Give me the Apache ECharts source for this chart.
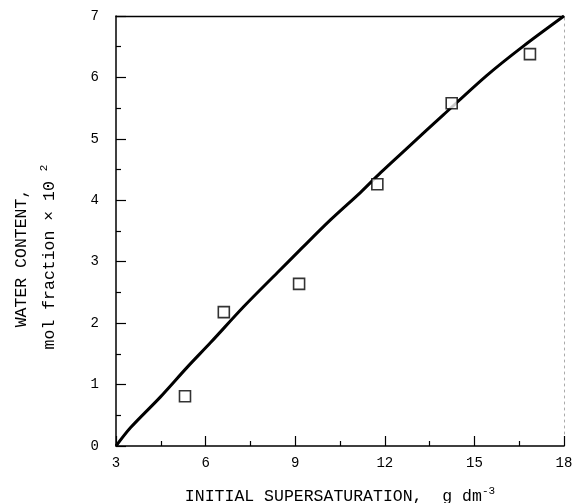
<!DOCTYPE html>
<html>
<head>
<meta charset="utf-8">
<script src="https://cdn.jsdelivr.net/npm/echarts@6/dist/echarts.min.js"></script>
<style>
  html, body { margin: 0; padding: 0; background: #fff; }
  #chart { width: 576px; height: 503px; }
</style>
</head>
<body>
<div id="chart"></div>
<script>
// Measured water content against initial supersaturation
const measX = [5.31, 6.61, 9.13, 11.75, 14.24, 16.86];
const measY = [0.81, 2.18, 2.64, 4.26, 5.58, 6.38];

// Fitted curve across the supersaturation range
const curveX = [3, 3.49, 4.49, 5.38, 6.16, 7.28, 8.40, 9.18, 10.18, 11.19, 11.86, 12.75, 13.96, 15.41, 16.64, 18];
const curveY = [0, 0.30, 0.80, 1.28, 1.68, 2.27, 2.82, 3.20, 3.68, 4.13, 4.45, 4.85, 5.39, 6.03, 6.51, 7];

// Axis ticks
const xTicks = [3, 6, 9, 12, 15, 18];
const yTicks = [0, 1, 2, 3, 4, 5, 6, 7];

const FONT = '"Liberation Mono", "DejaVu Sans Mono", monospace';

const chart = echarts.init(document.getElementById('chart'), null, { renderer: 'canvas' });

const curve = curveX.map((x, i) => [x, curveY[i]]);
const meas = measX.map((x, i) => [x, measY[i]]);

chart.setOption({
  animation: false,
  backgroundColor: '#fff',
  grid: { left: 116, right: 12, top: 16, bottom: 57, containLabel: false, outerBoundsMode: 'none' },
  xAxis: [{
    type: 'value',
    min: xTicks[0], max: xTicks[xTicks.length - 1], interval: 3,
    axisLine: { show: true, onZero: false, lineStyle: { color: '#000', width: 1.5 } },
    axisTick: { show: true, inside: true, length: 10, lineStyle: { color: '#000', width: 1.2 } },
    minorTick: { show: true, splitNumber: 2, length: 5, lineStyle: { color: '#000', width: 1.2 } },
    splitLine: { show: false },
    axisLabel: { margin: 10, color: '#000', fontFamily: FONT, fontSize: 14 },
    name: '{t|INITIAL SUPERSATURATION,  g dm}{s|-3}',
    nameLocation: 'middle',
    nameGap: 40,
    nameTextStyle: {
      rich: {
        t: { fontFamily: FONT, fontSize: 16.5, color: '#000' },
        s: { fontFamily: FONT, fontSize: 11, color: '#000', padding: [0, 0, 10, 0] }
      }
    }
  }, {
    type: 'value', position: 'top',
    min: xTicks[0], max: xTicks[xTicks.length - 1],
    axisLine: { show: true, onZero: false, lineStyle: { color: '#000', width: 1.3 } },
    axisTick: { show: false }, axisLabel: { show: false }, splitLine: { show: false }
  }],
  yAxis: [{
    type: 'value',
    min: yTicks[0], max: yTicks[yTicks.length - 1], interval: 1,
    axisLine: { show: true, onZero: false, lineStyle: { color: '#000', width: 1.5 } },
    axisTick: { show: true, inside: true, length: 10, lineStyle: { color: '#000', width: 1.2 } },
    minorTick: { show: true, splitNumber: 2, length: 5, lineStyle: { color: '#000', width: 1.2 } },
    splitLine: { show: false },
    axisLabel: { margin: 17, color: '#000', fontFamily: FONT, fontSize: 14 }
  }, {
    type: 'value', position: 'right',
    min: yTicks[0], max: yTicks[yTicks.length - 1],
    axisLine: { show: true, onZero: false, lineStyle: { color: '#aaa', width: 1, type: [2, 4] } },
    axisTick: { show: false }, axisLabel: { show: false }, splitLine: { show: false }
  }],
  graphic: [{
    type: 'text',
    x: 22, y: 258, rotation: Math.PI / 2,
    style: {
      text: 'WATER CONTENT,',
      fontFamily: FONT, fontSize: 16.5, fill: '#000',
      align: 'center', verticalAlign: 'middle'
    }
  }, {
    type: 'text',
    x: 50, y: 257, rotation: Math.PI / 2,
    style: {
      text: '{t|mol fraction × 10 }{s|2}',
      align: 'center', verticalAlign: 'middle',
      rich: {
        t: { fontFamily: FONT, fontSize: 16.5, fill: '#000' },
        s: { fontFamily: FONT, fontSize: 11, fill: '#000', padding: [0, 0, 12, 0] }
      }
    }
  }],
  series: [{
    type: 'line',
    data: curve,
    showSymbol: false,
    smooth: 0.3,
    lineStyle: { color: '#000', width: 3 },
    z: 2
  }, {
    type: 'scatter',
    data: meas,
    symbol: 'rect',
    symbolSize: 11,
    itemStyle: { color: '#fff', borderColor: '#000', borderWidth: 1.6 },
    z: 3
  }]
});
</script>
</body>
</html>
